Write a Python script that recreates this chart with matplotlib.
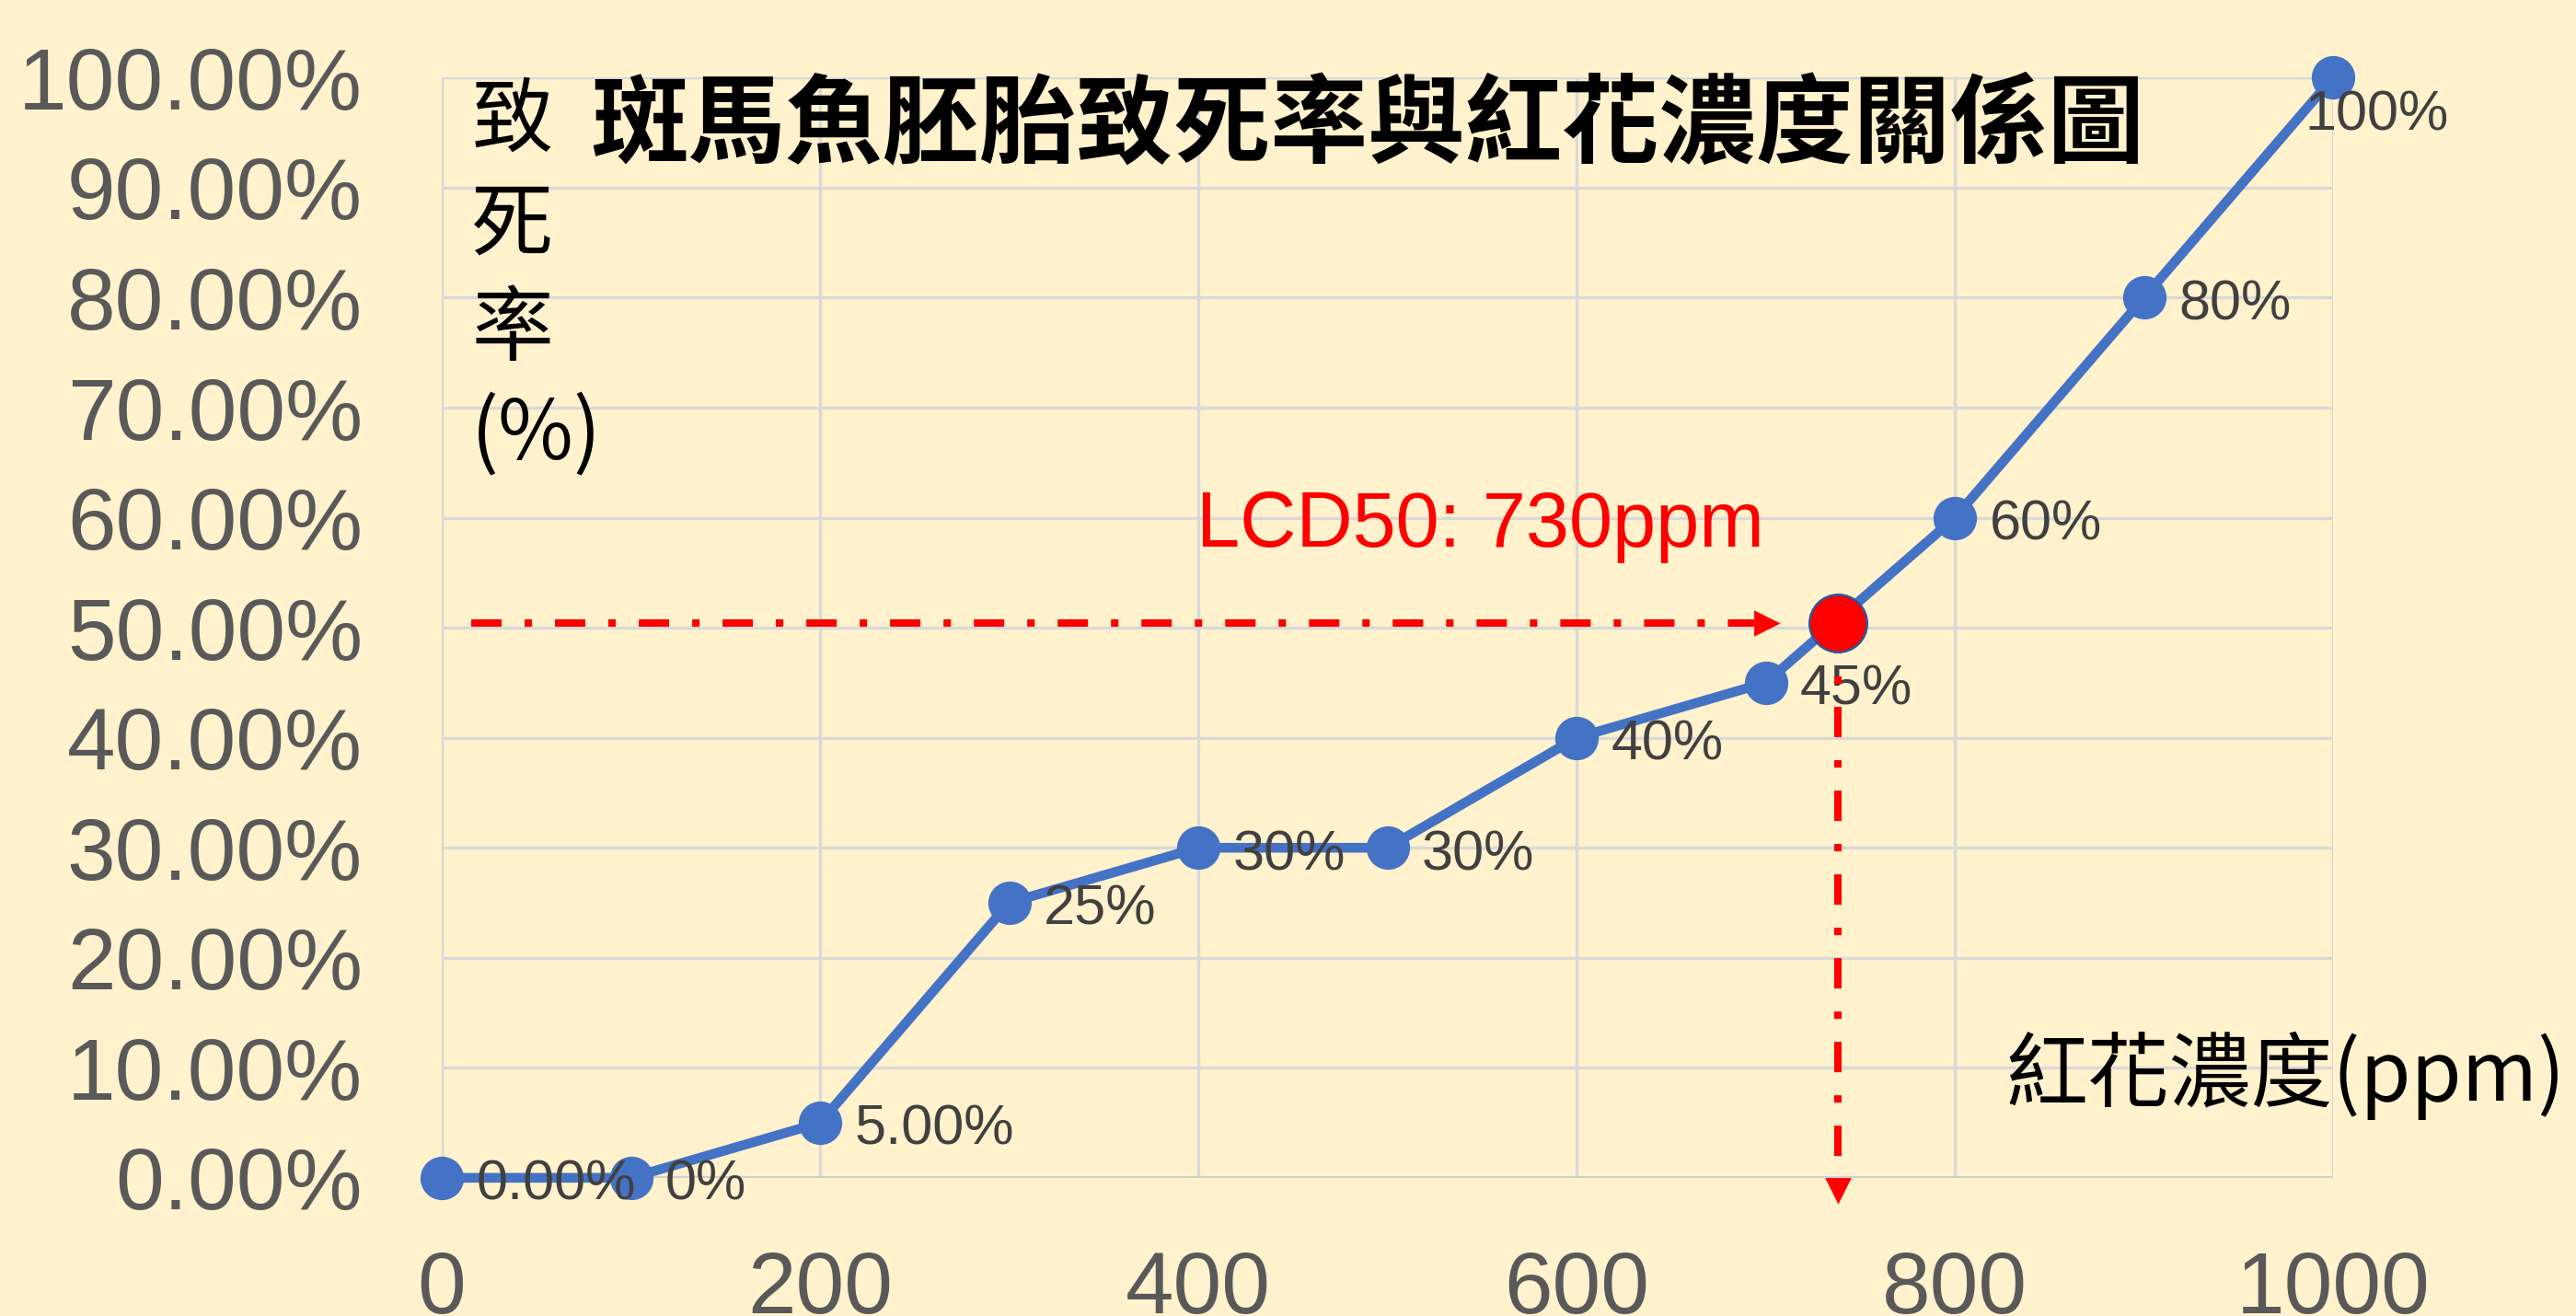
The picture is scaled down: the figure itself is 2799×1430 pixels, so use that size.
import matplotlib
matplotlib.use('Agg')
import matplotlib.pyplot as plt
import numpy as np

# datos: concentración de cártamo (ppm) y mortalidad de embriones
conc = [0, 100, 200, 300, 400, 500, 600, 700, 800, 900, 1000]
mortalidad = [0.00, 0.00, 0.05, 0.25, 0.30, 0.30, 0.40, 0.45, 0.60, 0.80, 1.00]
etiquetas = ['0.00%', '0%', '5.00%', '25%', '30%', '30%', '40%', '45%', '60%', '80%', '100%']
lc50_x = 738
lc50_y = 0.504
lc50_texto = 'LCD50: 730ppm'

titulo = '斑馬魚胚胎致死率與紅花濃度關係圖'
ylabel = '致\n死\n率\n(%)'
xlabel = '紅花濃度(ppm)'

FONDO = '#FFF2CC'
AZUL = '#4472C4'
ROJO = '#FF0000'

plt.rcParams['font.family'] = ['Liberation Sans', 'Noto Sans CJK TC']

fig = plt.figure(figsize=(13.995, 7.15), dpi=200, facecolor=FONDO)
ax = fig.add_axes([0.1715, 0.105, 0.7342, 0.836])
ax.set_facecolor(FONDO)

# línea principal
ax.plot(conc, mortalidad, color=AZUL, linewidth=3.8, marker='o', markersize=16,
        markerfacecolor=AZUL, markeredgecolor=AZUL, clip_on=False, zorder=3)

# etiquetas de datos
for i, (x, y, t) in enumerate(zip(conc, mortalidad, etiquetas)):
    off = (13.5, -3)
    if i == len(conc) - 1:
        off = (-11, -15)
    ax.annotate(t, (x, y), xytext=off, textcoords='offset points',
                ha='left', va='center', fontsize=22, color='#404040', zorder=4)

# líneas punteadas hacia el LC50
estilo = (0, (4.1, 3.1, 1.0, 3.1))
ax.plot([15.6, 694], [lc50_y, lc50_y], color=ROJO, linewidth=2.9, linestyle=estilo,
        clip_on=False, zorder=5)
ax.plot([700], [lc50_y], marker='>', color=ROJO, markersize=8.3, clip_on=False, zorder=5)
ax.plot([lc50_x, lc50_x], [lc50_y, 0.0], color=ROJO, linewidth=2.9, linestyle=estilo,
        clip_on=False, zorder=5)
ax.plot([lc50_x], [-0.011], marker='v', color=ROJO, markersize=8.3, clip_on=False, zorder=5)

# punto rojo del LC50
ax.plot([lc50_x], [lc50_y], marker='o', markersize=22.5, markerfacecolor=ROJO,
        markeredgecolor='#2F5597', markeredgewidth=0.9, clip_on=False, zorder=6)

ax.text(399, 0.5925, lc50_texto, color=ROJO, fontsize=30.5, va='center', ha='left')

# ejes
ax.set_xlim(0, 1000)
ax.set_ylim(0, 1)
ax.set_xticks(np.arange(0, 1001, 200))
ax.set_yticks(np.arange(0, 1.001, 0.1))
ax.set_yticklabels([f'{v * 100:.2f}%' for v in np.arange(0, 1.001, 0.1)])
ax.tick_params(axis='y', length=0, pad=31, labelsize=34, labelcolor='#595959')
ax.tick_params(axis='x', length=0, pad=28, labelsize=34, labelcolor='#595959')
ax.grid(True, color='#D9D9D9', linewidth=1.2, zorder=0)
ax.set_axisbelow(True)
for s in ax.spines.values():
    s.set_visible(False)
ax.axhline(0, color='#D0D0D0', linewidth=1.5, zorder=1)

# textos
fig.text(0.531, 0.904, titulo, ha='center', va='center', fontsize=38,
         fontweight='bold', color='black', family=['Noto Sans CJK TC'])
fig.text(0.183, 0.94, ylabel, ha='left', va='top', fontsize=32, color='black',
         family=['Noto Sans CJK TC'], linespacing=1.3)
fig.text(0.996, 0.1825, xlabel, ha='right', va='center', fontsize=32, color='black',
         family=['Noto Sans CJK TC'])

fig.savefig('out.png', dpi=200, facecolor=FONDO)
